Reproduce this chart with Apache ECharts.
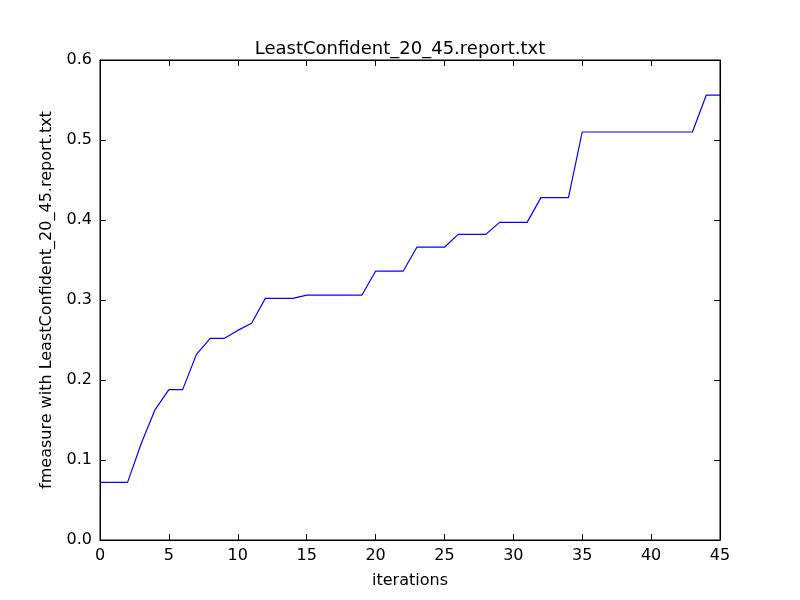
<!DOCTYPE html>
<html><head><meta charset="utf-8">
<script src="https://cdn.jsdelivr.net/npm/echarts@6/dist/echarts.min.js"></script>
<style>html,body{margin:0;padding:0;background:#fff}#c{width:800px;height:600px}</style>
</head><body><div id="c"></div>
<script>
const xValues = [0,1,2,3,4,5,6,7,8,9,10,11,12,13,14,15,16,17,18,19,20,21,22,23,24,25,26,27,28,29,30,31,32,33,34,35,36,37,38,39,40,41,42,43,44,45];
const fmeasure = [0.072,0.072,0.072,0.121,0.163,0.188,0.188,0.232,0.252,0.252,0.262,0.271,0.302,0.302,0.302,0.306,0.306,0.306,0.306,0.306,0.336,0.336,0.336,0.366,0.366,0.366,0.382,0.382,0.382,0.397,0.397,0.397,0.428,0.428,0.428,0.510,0.510,0.510,0.510,0.510,0.510,0.510,0.510,0.510,0.556,0.556];
const chart = echarts.init(document.getElementById('c'));
const font = 'DejaVu Sans';
const axisCommon = {
  axisLine:{show:true,onZero:false,lineStyle:{color:'#000',width:1}},
  axisTick:{show:true,inside:true,length:6,lineStyle:{color:'#000'}},
  splitLine:{show:false}
};
chart.setOption({
  animation:false,
  textStyle:{fontFamily:font},
  title:{text:'LeastConfident_20_45.report.txt',left:'center',top:35,textStyle:{fontFamily:font,fontSize:18,fontWeight:'normal',color:'#000'}},
  grid:{left:100,right:80,top:60,bottom:60,show:true,borderColor:'#000',borderWidth:1},
  xAxis:[
    Object.assign({type:'value',min:0,max:45,interval:5,position:'bottom',name:'iterations',nameLocation:'middle',nameGap:33,
      nameTextStyle:{fontFamily:font,fontSize:16,color:'#000'},
      axisLabel:{fontFamily:font,fontSize:16,color:'#000',margin:8}},axisCommon),
    Object.assign({type:'value',min:0,max:45,interval:5,position:'top',axisLabel:{show:false}},axisCommon)
  ],
  yAxis:[
    Object.assign({type:'value',min:0,max:0.6,interval:0.1,position:'left',name:'fmeasure with LeastConfident_20_45.report.txt',nameLocation:'middle',nameGap:45,
      nameTextStyle:{fontFamily:font,fontSize:16,color:'#000'},
      axisLabel:{fontFamily:font,fontSize:16,color:'#000',margin:8,formatter:v=>v.toFixed(1)}},axisCommon),
    Object.assign({type:'value',min:0,max:0.6,interval:0.1,position:'right',axisLabel:{show:false}},axisCommon)
  ],
  series:[{type:'line',data:xValues.map((x,i)=>[x,fmeasure[i]]),showSymbol:false,lineStyle:{color:'#0000ff',width:1.2},itemStyle:{color:'#0000ff'}}]
});
</script></body></html>
